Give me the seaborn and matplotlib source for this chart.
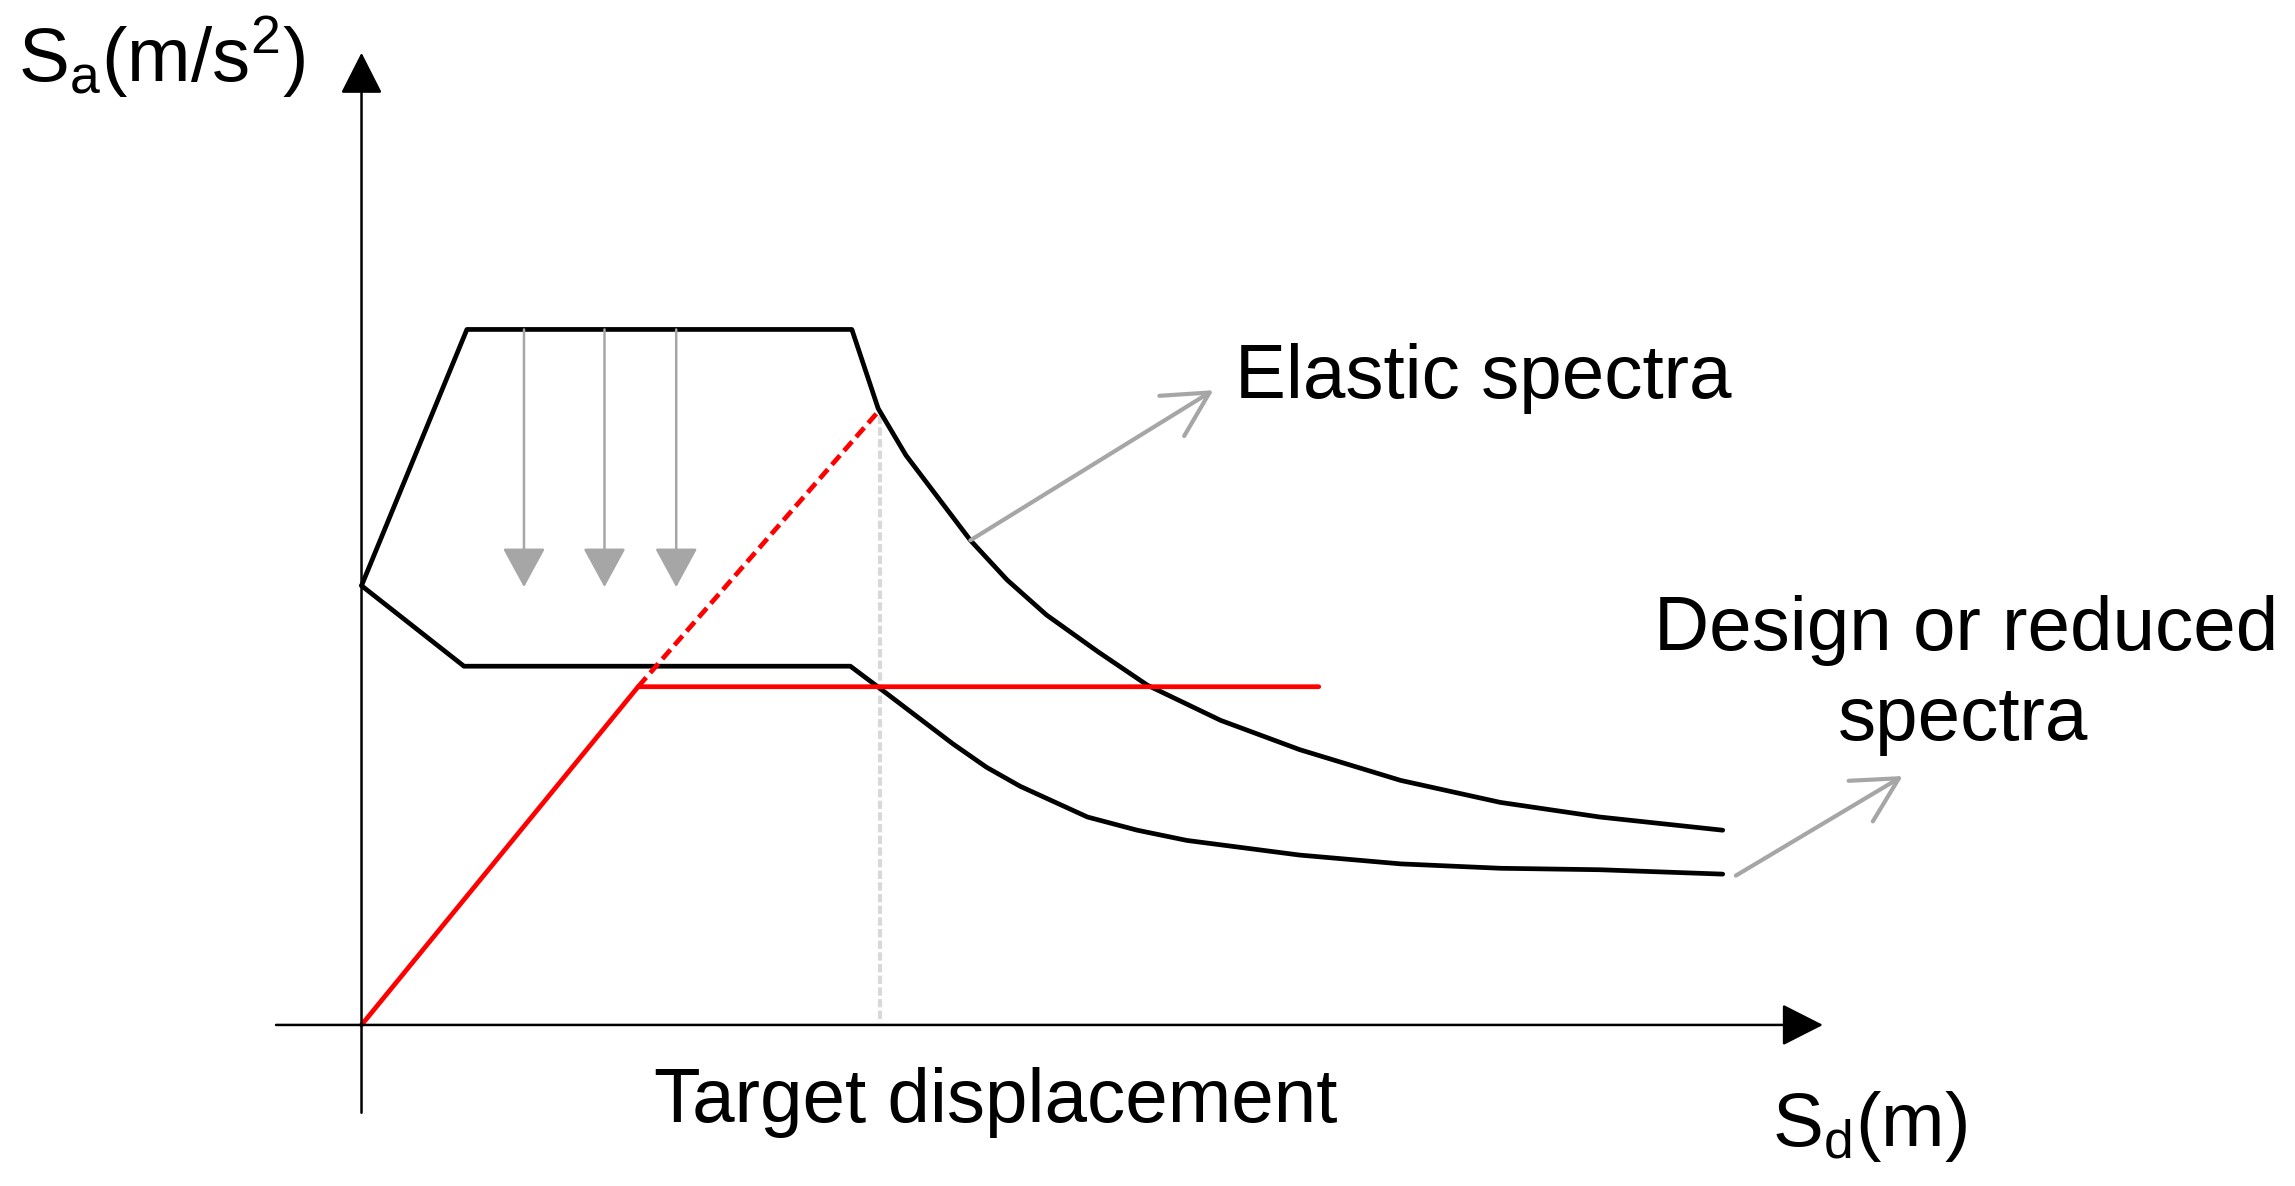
import pandas as pd
import matplotlib
matplotlib.use("Agg")
import matplotlib.pyplot as plt
import seaborn as sns

# spectra (Sd in arbitrary units, Sa in arbitrary units)
elastic_sd = [0.0, 0.72, 3.35, 3.53, 3.72, 4.16, 4.41, 4.68, 5.03, 5.37, 5.87, 6.41, 7.10, 7.78, 8.46, 9.30]
elastic_sa = [3.00, 4.75, 4.75, 4.21, 3.89, 3.31, 3.04, 2.80, 2.55, 2.32, 2.08, 1.88, 1.67, 1.52, 1.42, 1.33]

design_sd = [0.0, 0.70, 3.34, 3.54, 4.04, 4.27, 4.50, 4.96, 5.30, 5.64, 6.41, 7.10, 7.78, 8.46, 9.30]
design_sa = [3.00, 2.45, 2.45, 2.30, 1.92, 1.76, 1.63, 1.42, 1.33, 1.26, 1.16, 1.10, 1.07, 1.06, 1.03]

capacity_sd = [0.0, 1.89, 6.54]
capacity_sa = [0.0, 2.31, 2.31]

elastic_branch_sd = [1.89, 3.54]
elastic_branch_sa = [2.31, 4.20]

target_sd = [3.54, 3.54]
target_sa = [0.04, 4.20]

reduction_sd = [1.11, 1.66, 2.15]
reduction_top = 4.75
reduction_bottom = 2.99

sns.set_theme(style="white")
plt.rcParams["font.family"] = ["Liberation Sans", "DejaVu Sans"]
plt.rcParams["mathtext.default"] = "regular"
plt.rcParams["text.color"] = "black"

fig = plt.figure(figsize=(22.95, 11.86), dpi=100)
ax = fig.add_axes([0, 0, 1, 1])
ax.set_xlim(-2.47, 13.21)
ax.set_ylim(-1.10, 7.00)
ax.axis("off")

grey = "#a6a6a6"

# target displacement guide
sns.lineplot(x=target_sd, y=target_sa, ax=ax, sort=False, estimator=None,
             color="#d9d9d9", linewidth=3, linestyle=(0, (2, 0.8)))

# reduction arrows
for sd in reduction_sd:
    ax.annotate("", xy=(sd, reduction_bottom), xytext=(sd, reduction_top),
                arrowprops=dict(arrowstyle="-|>,head_length=1.25,head_width=0.68",
                                color=grey, lw=1.8, shrinkA=0, shrinkB=0,
                                mutation_scale=20))

sns.lineplot(x=elastic_sd, y=elastic_sa, ax=ax, sort=False, estimator=None,
             color="black", linewidth=3.4)
sns.lineplot(x=design_sd, y=design_sa, ax=ax, sort=False, estimator=None,
             color="black", linewidth=3.4)
sns.lineplot(x=capacity_sd, y=capacity_sa, ax=ax, sort=False, estimator=None,
             color="#ff0000", linewidth=3.4)
sns.lineplot(x=elastic_branch_sd, y=elastic_branch_sa, ax=ax, sort=False,
             estimator=None, color="#ff0000", linewidth=3.4, linestyle=(0, (2.6, 1.3)))

# axes with arrow heads
axis_style = dict(arrowstyle="-|>,head_length=1.3,head_width=0.66", color="black",
                  lw=1.8, shrinkA=0, shrinkB=0, mutation_scale=20)
ax.annotate("", xy=(9.985, 0), xytext=(-0.584, 0), arrowprops=axis_style)
ax.annotate("", xy=(0, 6.64), xytext=(0, -0.60), arrowprops=axis_style)

# label pointers
pointer = dict(arrowstyle="->,head_length=1.6,head_width=0.85", color=grey,
               lw=3, shrinkA=0, shrinkB=0, mutation_scale=20)
ax.annotate("", xy=(5.82, 4.335), xytext=(4.16, 3.31), arrowprops=pointer)
ax.annotate("", xy=(10.53, 1.70), xytext=(9.39, 1.02), arrowprops=pointer)

fs = 55
ax.text(5.967, 4.28, "Elastic spectra", fontsize=fs, va="baseline", ha="left")
ax.text(10.96, 2.56, "Design or reduced", fontsize=fs, va="baseline", ha="center")
ax.text(10.94, 1.944, "spectra", fontsize=fs, va="baseline", ha="center")
ax.text(2.00, -0.665, "Target displacement", fontsize=fs, va="baseline", ha="left")
ax.text(9.635, -0.83, r"$\mathregular{S_d(m)}$", fontsize=fs, va="baseline", ha="left")
ax.text(-2.345, 6.44, r"$\mathregular{S_a(m/s^2)}$", fontsize=fs, va="baseline", ha="left")

fig.savefig("out.png", dpi=100, facecolor="white")
